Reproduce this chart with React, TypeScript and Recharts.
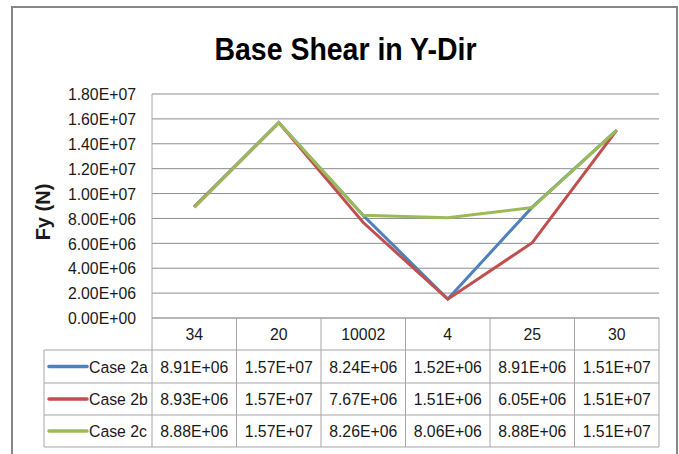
import React from 'react';
import { LineChart, Line, XAxis, YAxis, CartesianGrid } from 'recharts';

const categories = ['34', '20', '10002', '4', '25', '30'];
const case2a = [8.91e6, 1.57e7, 8.24e6, 1.52e6, 8.91e6, 1.51e7];
const case2b = [8.93e6, 1.57e7, 7.67e6, 1.51e6, 6.05e6, 1.51e7];
const case2c = [8.88e6, 1.57e7, 8.26e6, 8.06e6, 8.88e6, 1.51e7];
const yTicks = [0, 2e6, 4e6, 6e6, 8e6, 1e7, 1.2e7, 1.4e7, 1.6e7, 1.8e7];
const seriesNames = ['Case 2a', 'Case 2b', 'Case 2c'];
const seriesKeys = ['a', 'b', 'c'];
const seriesValues = [case2a, case2b, case2c];
const seriesColors = ['#4F81BD', '#C0504D', '#9BBB59'];

const data = categories.map((cat, i) => ({
  cat,
  a: case2a[i],
  b: case2b[i],
  c: case2c[i],
}));

const FONT = "'Liberation Sans', Arial, sans-serif";
const W = 679;
const H = 454;
const M_TOP = 94;
const M_RIGHT = 20;
const Y_W = 152;
const X_H = 136;
const COL_W = (W - M_RIGHT - Y_W) / categories.length;
const TABLE_LEFT = 44;
const ROW_EDGES = [0, 32, 65, 97, 129];
const LINE_COLOR = '#a6a6a6';
const TEXT_COLOR = '#1a1a1a';
const FS = 17;
const SX = 0.93;

function fmt(v: number): string {
  const [m, e] = v.toExponential(2).split('e');
  const sign = e.startsWith('-') ? '-' : '+';
  const digits = e.replace(/[+-]/, '').padStart(2, '0');
  return `${m}E${sign}${digits}`;
}

function NText(props: { x: number; y: number; anchor?: 'start' | 'middle' | 'end'; children: React.ReactNode }) {
  const { x, y, anchor = 'middle', children } = props;
  return (
    <text
      transform={`translate(${x},${y}) scale(${SX},1)`}
      x={0}
      y={0}
      textAnchor={anchor}
      dominantBaseline="central"
      fontSize={FS}
      fontFamily={FONT}
      fill={TEXT_COLOR}
    >
      {children}
    </text>
  );
}

function TableTick(props: any) {
  const { x, y, payload } = props;
  const i: number = props.index ?? payload.index;
  const half = COL_W / 2;
  const bottom = y + ROW_EDGES[ROW_EDGES.length - 1];
  const els: React.ReactNode[] = [];
  if (i === 0) {
    const left = x - half;
    const right = left + categories.length * COL_W;
    ROW_EDGES.slice(1).forEach((r, k) => {
      els.push(<line key={'h' + k} x1={TABLE_LEFT} x2={right} y1={y + r} y2={y + r} stroke={LINE_COLOR} strokeWidth={1} />);
    });
    els.push(<line key="vl" x1={TABLE_LEFT} x2={TABLE_LEFT} y1={y + ROW_EDGES[1]} y2={bottom} stroke={LINE_COLOR} strokeWidth={1} />);
    els.push(<line key="vl2" x1={left} x2={left} y1={y} y2={bottom} stroke={LINE_COLOR} strokeWidth={1} />);
    seriesNames.forEach((name, s) => {
      const cy = y + (ROW_EDGES[s + 1] + ROW_EDGES[s + 2]) / 2;
      els.push(<line key={'sw' + s} x1={49} x2={87} y1={cy} y2={cy} stroke={seriesColors[s]} strokeWidth={3.5} strokeLinecap="round" />);
      els.push(
        <NText key={'ln' + s} x={89} y={cy} anchor="start">
          {name}
        </NText>
      );
    });
  }
  els.push(<line key="vr" x1={x + half} x2={x + half} y1={y} y2={bottom} stroke={LINE_COLOR} strokeWidth={1} />);
  els.push(
    <NText key="cat" x={x} y={y + (ROW_EDGES[0] + ROW_EDGES[1]) / 2}>
      {payload.value}
    </NText>
  );
  seriesValues.forEach((vals, s) => {
    const cy = y + (ROW_EDGES[s + 1] + ROW_EDGES[s + 2]) / 2;
    els.push(
      <NText key={'v' + s} x={x} y={cy}>
        {fmt(vals[i])}
      </NText>
    );
  });
  return <g>{els}</g>;
}

function YTick(props: any) {
  const { x, y, payload } = props;
  return (
    <NText x={x} y={y} anchor="end">
      {fmt(payload.value)}
    </NText>
  );
}

function YLabel() {
  const cx = 43;
  const cy = 212;
  return (
    <text
      x={cx}
      y={cy}
      transform={`rotate(-90, ${cx}, ${cy})`}
      textAnchor="middle"
      dominantBaseline="central"
      fontSize={20}
      fontWeight="bold"
      fontFamily={FONT}
      fill={TEXT_COLOR}
    >
      Fy (N)
    </text>
  );
}

export default function App() {
  return (
    <div style={{ position: 'absolute', left: 0, top: 0, width: W, height: H, overflow: 'hidden', background: '#fff' }}>
      <div
        style={{
          position: 'absolute',
          left: 11,
          top: 6,
          width: 667,
          height: 470,
          border: '2px solid #868686',
          boxSizing: 'border-box',
        }}
      />
      <svg style={{ position: 'absolute', left: 0, top: 0 }} width={W} height={90}>
        <text
          transform={`translate(345.5,60) scale(0.89,1)`}
          x={0}
          y={0}
          textAnchor="middle"
          fontSize={32}
          fontWeight="bold"
          fontFamily={FONT}
          fill="#000"
        >
          Base Shear in Y-Dir
        </text>
      </svg>
      <div style={{ position: 'absolute', left: 0, top: 0 }}>
        <LineChart width={W} height={H} data={data} margin={{ top: M_TOP, right: M_RIGHT, left: 0, bottom: 0 }}>
          <CartesianGrid vertical={false} stroke="#8e8e8e" strokeWidth={1} />
          <XAxis
            dataKey="cat"
            scale="band"
            height={X_H}
            interval={0}
            tickLine={false}
            tickSize={0}
            tickMargin={0}
            axisLine={{ stroke: LINE_COLOR }}
            tick={<TableTick />}
          />
          <YAxis
            width={Y_W}
            domain={[0, 1.8e7]}
            ticks={yTicks}
            interval={0}
            tickLine={false}
            tickSize={0}
            tickMargin={16}
            axisLine={{ stroke: LINE_COLOR }}
            tick={<YTick />}
            label={<YLabel />}
          />
          {seriesKeys.map((k, s) => (
            <Line
              key={k}
              dataKey={k}
              name={seriesNames[s]}
              stroke={seriesColors[s]}
              strokeWidth={3}
              dot={false}
              activeDot={false}
              isAnimationActive={false}
            />
          ))}
        </LineChart>
      </div>
    </div>
  );
}
